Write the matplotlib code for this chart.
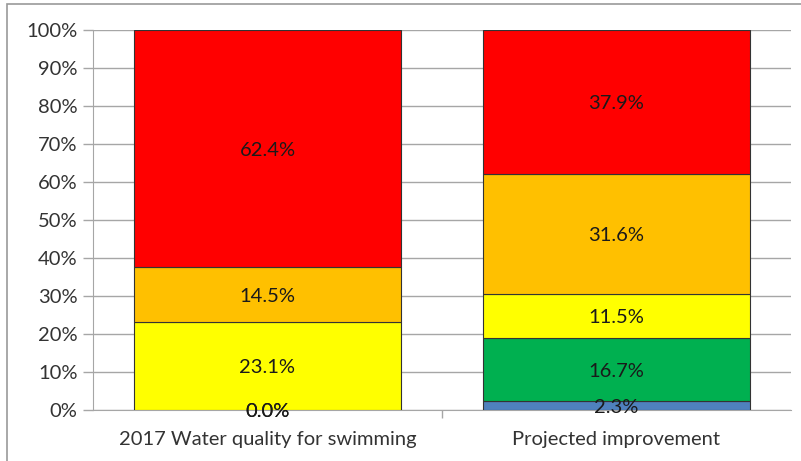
import matplotlib
matplotlib.use("Agg")
import matplotlib.pyplot as plt
from matplotlib.patches import Rectangle
import numpy as np

categories = ["2017 Water quality for swimming", "Projected improvement"]
series_names = ["Blue", "Green", "Yellow", "Orange", "Red"]
blue = [0.0, 2.3]
green = [0.0, 16.7]
yellow = [23.1, 11.5]
orange = [14.5, 31.6]
red = [62.4, 37.9]
colors = ["#4F81BD", "#00B050", "#FFFF00", "#FFC000", "#FF0000"]
yticks = [0, 10, 20, 30, 40, 50, 60, 70, 80, 90, 100]

plt.rcParams['font.family'] = ['Lato', 'DejaVu Sans']

fig = plt.figure(figsize=(8.01, 4.61), dpi=100)
ax = fig.add_axes([93/801, 1 - 410/461, 698/801, 380/461])

x = np.arange(len(categories))
bottom = np.zeros(len(categories))
for vals, col in zip([blue, green, yellow, orange, red], colors):
    vals = np.array(vals)
    ax.bar(x, vals, bottom=bottom, width=0.765, color=col,
           edgecolor="#333333", linewidth=0.8, zorder=3)
    for xi, v, b in zip(x, vals, bottom):
        ax.text(xi, b + v / 2, f"{v:.1f}%", ha="center", va="center_baseline",
                fontsize=14.5, color="#1a1a1a", zorder=4)
    bottom += vals

ax.set_xlim(-0.5, 1.5)
ax.set_ylim(0, 100)
ax.set_yticks(yticks)
ax.set_yticklabels([f"{t}%" for t in yticks], fontsize=14.5, color="#333333")
ax.yaxis.grid(True, color="#a6a6a6", linewidth=1, zorder=0)
ax.set_axisbelow(True)
ax.tick_params(axis="y", length=7, color="#a6a6a6", width=1, pad=4)

ax.set_xticks([0.5], minor=False)
ax.set_xticklabels([""])
ax.tick_params(axis="x", length=6, color="#a6a6a6", width=1)
ax.set_xticks(x, minor=True)
ax.set_xticklabels(categories, minor=True, fontsize=14.5, color="#333333")
ax.tick_params(axis="x", which="minor", length=0, pad=15)

for s in ["top", "right"]:
    ax.spines[s].set_visible(False)
ax.spines["left"].set_color("#a6a6a6")
ax.spines["bottom"].set_color("#a6a6a6")

# outer chart frame
fig.patches.append(Rectangle((7/801, -0.05), 1.2, 1 - 4.5/461 + 0.05,
                             transform=fig.transFigure, fill=False,
                             edgecolor="#999999", linewidth=1.2))

fig.savefig("out.png", dpi=100)
